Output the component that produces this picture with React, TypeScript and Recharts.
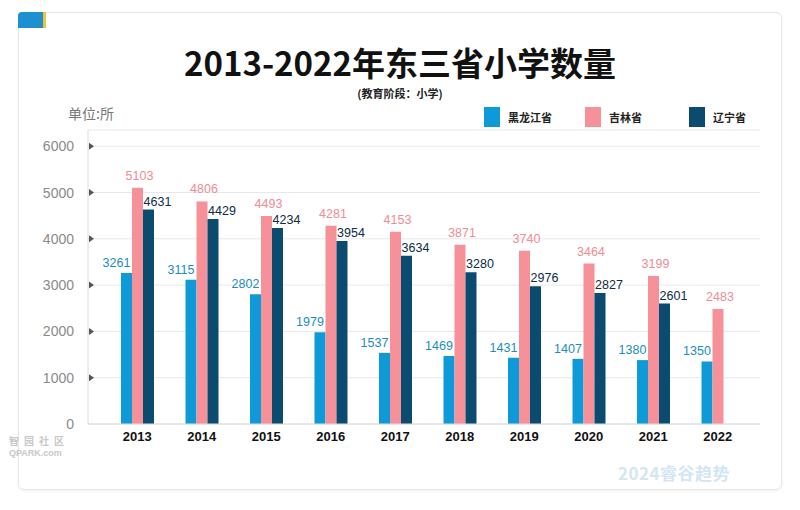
import React from "react";
import { BarChart, Bar, XAxis, YAxis, CartesianGrid, LabelList } from "recharts";

const years = ["2013", "2014", "2015", "2016", "2017", "2018", "2019", "2020", "2021", "2022"];
const heilongjiang = [3261, 3115, 2802, 1979, 1537, 1469, 1431, 1407, 1380, 1350];
const jilin = [5103, 4806, 4493, 4281, 4153, 3871, 3740, 3464, 3199, 2483];
const liaoning: (number | null)[] = [4631, 4429, 4234, 3954, 3634, 3280, 2976, 2827, 2601, null];
const yTicks = [0, 1000, 2000, 3000, 4000, 5000, 6000];

const seriesNames = ["黑龙江省", "吉林省", "辽宁省"];
const barColors = ["#0E9AD8", "#F69199", "#0B4B70"];
const labelColors = ["#1A8DBE", "#EE8C95", "#0C2B45"];

const data = years.map((y, i) => ({
  year: y,
  hlj: heilongjiang[i],
  jl: jilin[i],
  ln: liaoning[i],
}));

const FONT = "'Liberation Sans', Arial, sans-serif";
const CJK = "'Noto Sans CJK SC', sans-serif";

const makeLabel = (color: string, dx: number, dy: number) => (props: any) => {
  const { x, y, width, value } = props;
  if (value == null) return null;
  return (
    <text
      x={x + width / 2 + dx}
      y={y - dy}
      textAnchor="middle"
      fill={color}
      fontSize={12.5}
      fontFamily={FONT}
    >
      {value}
    </text>
  );
};

const YTick = (props: any) => {
  const { x, y, payload } = props;
  return (
    <g>
      <text x={x} y={y + 5} textAnchor="end" fill="#8a8a8a" fontSize={14} fontFamily={FONT}>
        {payload.value}
      </text>
      {payload.value !== 0 && (
        <polygon points={`${x + 15},${y - 3.5} ${x + 20},${y} ${x + 15},${y + 3.5}`} fill="#555" />
      )}
    </g>
  );
};

export default function App() {
  return (
    <div style={{ position: "absolute", left: 0, top: 0, width: 800, height: 510, background: "#fff", overflow: "hidden" }}>
      <div
        style={{
          position: "absolute",
          left: 18,
          top: 12,
          width: 764,
          height: 478,
          border: "1px solid #e6e6e6",
          borderRadius: 6,
          boxShadow: "0 1px 3px rgba(0,0,0,0.06)",
          boxSizing: "border-box",
        }}
      />
      <div style={{ position: "absolute", left: 18, top: 12, width: 25, height: 16, background: "#1E8FD0", borderTopLeftRadius: 4 }} />
      <div style={{ position: "absolute", left: 43, top: 12, width: 3, height: 16, background: "#F2C230" }} />
      <div
        style={{
          position: "absolute",
          left: 0,
          width: 800,
          top: 38,
          textAlign: "center",
          fontFamily: CJK,
          fontWeight: 700,
          fontSize: 33,
          lineHeight: "48px",
          color: "#111",
        }}
      >
        2013-2022年东三省小学数量
      </div>
      <div
        style={{
          position: "absolute",
          left: 0,
          width: 800,
          top: 85,
          textAlign: "center",
          fontFamily: CJK,
          fontWeight: 700,
          fontSize: 11,
          lineHeight: "16px",
          color: "#222",
        }}
      >
        (教育阶段：小学)
      </div>
      <div
        style={{
          position: "absolute",
          left: 68,
          top: 103,
          fontFamily: CJK,
          fontSize: 14,
          lineHeight: "20px",
          color: "#777",
        }}
      >
        单位:所
      </div>
      {seriesNames.map((n, i) => (
        <div key={n} style={{ position: "absolute", left: [484, 585, 689][i], top: 107, display: "flex", alignItems: "center" }}>
          <div style={{ width: 16, height: 20, background: barColors[i] }} />
          <span style={{ marginLeft: 8, fontFamily: CJK, fontWeight: 700, fontSize: 11, color: "#222" }}>{n}</span>
        </div>
      ))}
      <div
        style={{
          position: "absolute",
          left: 618,
          top: 460,
          fontFamily: CJK,
          fontWeight: 700,
          fontSize: 17,
          color: "#d3e6f1",
          letterSpacing: 0.5,
        }}
      >
        2024睿谷趋势
      </div>
      <div
        style={{
          position: "absolute",
          left: 9,
          top: 434,
          fontFamily: FONT,
          fontWeight: 700,
          color: "#c8c8c8",
        }}
      >
        <div style={{ fontFamily: CJK, letterSpacing: 5, fontSize: 10, lineHeight: "14px" }}>智园社区</div>
        <div style={{ fontSize: 9, lineHeight: "11px" }}>QPARK.com</div>
      </div>
      <div style={{ position: "absolute", left: 0, top: 0 }}>
        <BarChart
          width={800}
          height={510}
          data={data}
          margin={{ top: 130, right: 40, bottom: 56, left: 28 }}
          barSize={11}
          barGap={0}
        >
          <CartesianGrid vertical={false} stroke="#e8e8e8" />
          <XAxis
            dataKey="year"
            tickLine={false}
            axisLine={{ stroke: "#dcdcdc" }}
            padding={{ left: 17, right: 10 }}
            tick={{ fill: "#111", fontSize: 13, fontWeight: 700, fontFamily: FONT }}
            interval={0}
          />
          <YAxis
            width={60}
            domain={[0, 6350]}
            ticks={yTicks}
            tickLine={false}
            tickSize={6}
            tickMargin={8}
            axisLine={{ stroke: "#dcdcdc" }}
            tick={<YTick />}
            allowDataOverflow
          />
          <Bar dataKey="hlj" fill={barColors[0]} isAnimationActive={false}>
            <LabelList dataKey="hlj" content={makeLabel(labelColors[0], -10, 6)} />
          </Bar>
          <Bar dataKey="jl" fill={barColors[1]} isAnimationActive={false}>
            <LabelList dataKey="jl" content={makeLabel(labelColors[1], 2, 8)} />
          </Bar>
          <Bar dataKey="ln" fill={barColors[2]} isAnimationActive={false}>
            <LabelList dataKey="ln" content={makeLabel(labelColors[2], 9, 4)} />
          </Bar>
        </BarChart>
      </div>
    </div>
  );
}
